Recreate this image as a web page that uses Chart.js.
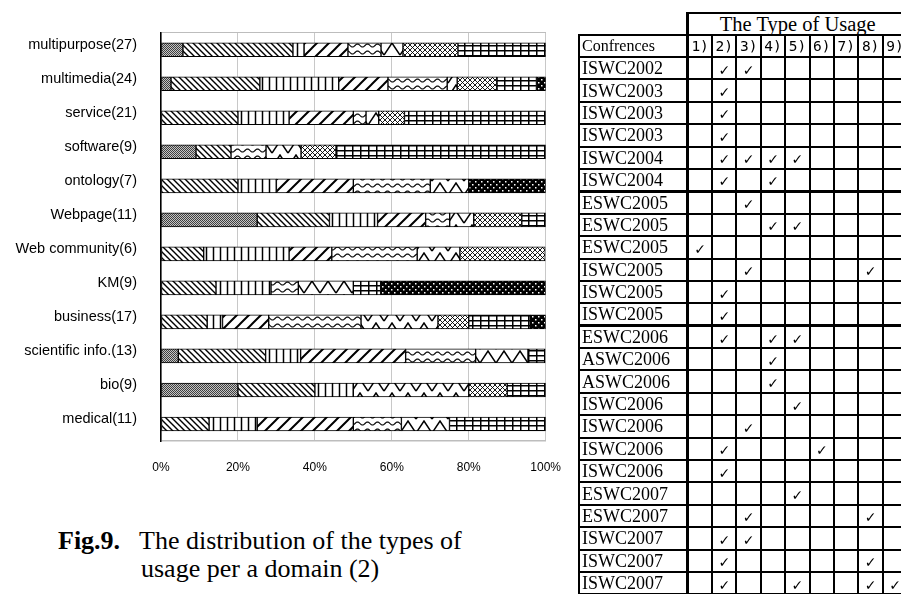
<!DOCTYPE html>
<html>
<head>
<meta charset="utf-8">
<script src="https://cdn.jsdelivr.net/npm/chart.js@4.4.0/dist/chart.umd.min.js"></script>
<style>
html,body{margin:0;padding:0;background:#fff;width:901px;height:594px;overflow:hidden;position:relative}
#wrap{position:absolute;left:0;top:0;width:580px;height:481px}
#tbl{position:absolute;left:578px;top:12px;border-collapse:collapse;table-layout:fixed;width:329px}
#tbl td{border:2px solid #000;padding:0;font-family:"Liberation Serif","Times New Roman",serif;color:#000;white-space:nowrap;overflow:hidden;vertical-align:middle;background:#fff;line-height:14px}
#tbl tr{height:22.4px}
#tbl tr.h1{height:21.6px}
#tbl td.blank{border-top:none;border-left:none;border-bottom:none;background:transparent}
#tbl td.title{font-size:20.5px;text-align:center;border-left:3px solid #000}
#tbl td.name{font-size:18px;padding-left:2px;border-right:3px solid #000}
#tbl td.hname{font-size:16px;padding-left:2px;border-right:3px solid #000}
#tbl td.num{font-family:"DejaVu Sans Mono",monospace;font-size:14.5px;text-align:center}
#tbl td.chk{font-family:"DejaVu Sans",sans-serif;font-size:14px;text-align:center;padding-top:3px;font-weight:bold}
#tbl tr.sep td{border-top:3px solid #000}
.cap{position:absolute;font-family:"Liberation Serif","Times New Roman",serif;font-size:26px;line-height:28px;color:#000;white-space:nowrap}
.cap b{font-weight:bold}
</style>
</head>
<body>
<div id="wrap"><canvas id="c" width="580" height="481"></canvas></div>
<table id="tbl">
<colgroup><col style="width:108.7px"><col style="width:24.4px"><col style="width:24.4px"><col style="width:24.4px"><col style="width:24.4px"><col style="width:24.4px"><col style="width:24.4px"><col style="width:24.4px"><col style="width:24.4px"><col style="width:24.4px"></colgroup>
<tbody id="tb"></tbody>
</table>
<div id="caption">
<div class="cap" style="left:58px;top:527px"><b>Fig.9.</b></div>
<div class="cap" style="left:139px;top:527px">The distribution of the types of</div>
<div class="cap" style="left:141px;top:555px">usage per a domain (2)</div>
</div>
<script>
// ---- chart data (percent of usages per domain) ----
const categories = ['multipurpose(27)','multimedia(24)','service(21)','software(9)','ontology(7)','Webpage(11)','Web community(6)','KM(9)','business(17)','scientific info.(13)','bio(9)','medical(11)'];
const type1 = [5.7, 2.6, 0, 9.1, 0, 25, 0, 0, 0, 4.5, 20, 0];
const type2 = [28.6, 23.1, 20, 9.1, 20, 18.8, 11.1, 14.3, 12, 22.7, 20, 12.5];
const type3 = [2.9, 20.5, 13.3, 0, 10, 12.5, 22.2, 14.3, 4, 9.1, 10, 12.5];
const type4 = [11.4, 12.8, 16.7, 0, 20, 12.5, 11.1, 0, 12, 27.3, 0, 25];
const type5 = [8.6, 15.4, 3.3, 9.1, 20, 6.25, 22.2, 7.1, 24, 18.2, 0, 12.5];
const type6 = [5.7, 2.6, 3.3, 9.1, 10, 6.25, 11.1, 14.3, 20, 13.6, 30, 12.5];
const type7 = [14.3, 10.3, 6.7, 9.1, 0, 12.5, 22.2, 0, 8, 0, 10, 0];
const type8 = [22.9, 10.3, 36.7, 54.5, 0, 6.25, 0, 7.1, 16, 4.5, 10, 25];
const type9 = [0, 2.6, 0, 0, 20, 0, 0, 42.9, 4, 0, 0, 0];
const typeNames = ['1)','2)','3)','4)','5)','6)','7)','8)','9)'];
const xTickStep = 20;

// ---- table data ----
const tableTitle = 'The Type of Usage';
const tableHead = 'Confrences';
const conferences = ['ISWC2002','ISWC2003','ISWC2003','ISWC2003','ISWC2004','ISWC2004','ESWC2005','ESWC2005','ESWC2005','ISWC2005','ISWC2005','ISWC2005','ESWC2006','ASWC2006','ASWC2006','ISWC2006','ISWC2006','ISWC2006','ISWC2006','ESWC2007','ESWC2007','ISWC2007','ISWC2007','ISWC2007'];
const usageChecks = [[2,3],[2],[2],[2],[2,3,4,5],[2,4],[3],[4,5],[1],[3,8],[2],[2],[2,4,5],[4],[4],[5],[3],[2,6],[2],[5],[3,8],[2,3],[2,8],[2,5,8,9]];
const separatorRows = [6,12];

// ---- build table ----
const tb = document.getElementById('tb');
let tr = document.createElement('tr'); tr.className='h1';
let td = document.createElement('td'); td.className='blank'; tr.appendChild(td);
td = document.createElement('td'); td.className='title'; td.colSpan=9; td.textContent=tableTitle; tr.appendChild(td);
tb.appendChild(tr);
tr = document.createElement('tr');
td = document.createElement('td'); td.className='hname'; td.textContent=tableHead; tr.appendChild(td);
typeNames.forEach(n=>{const d=document.createElement('td'); d.className='num'; d.textContent=n; tr.appendChild(d);});
tb.appendChild(tr);
conferences.forEach((name,i)=>{
  const r=document.createElement('tr');
  if(separatorRows.includes(i)) r.className='sep';
  const a=document.createElement('td'); a.className='name'; a.textContent=name; r.appendChild(a);
  for(let k=1;k<=9;k++){const d=document.createElement('td'); d.className='chk'; d.textContent=usageChecks[i].includes(k)?'\u2713':''; r.appendChild(d);}
  tb.appendChild(r);
});

// ---- patterns ----
const canvas=document.getElementById('c');
const ctx=canvas.getContext('2d');
function tile(w,h,draw){
  const c=document.createElement('canvas'); c.width=w; c.height=h;
  const g=c.getContext('2d'); g.fillStyle='#fff'; g.fillRect(0,0,w,h);
  g.strokeStyle='#000'; g.fillStyle='#000'; draw(g,w,h);
  return ctx.createPattern(c,'repeat');
}
const patterns=[
  tile(2,2,g=>{g.fillStyle='#c4c4c4';g.fillRect(0,0,2,2);g.fillStyle='#404040';g.fillRect(0,0,1,1);g.fillRect(1,1,1,1);}),
  tile(6,6,g=>{g.lineWidth=1.4;g.beginPath();g.moveTo(-1,-1);g.lineTo(7,7);g.moveTo(-1,5);g.lineTo(1,7);g.moveTo(5,-1);g.lineTo(7,1);g.stroke();}),
  tile(7,4,g=>{g.lineWidth=1.5;g.beginPath();g.moveTo(3.5,0);g.lineTo(3.5,4);g.stroke();}),
  tile(12,12,g=>{g.lineWidth=2;g.beginPath();g.moveTo(-1,13);g.lineTo(13,-1);g.moveTo(-1,1);g.lineTo(1,-1);g.moveTo(11,13);g.lineTo(13,11);g.stroke();}),
  tile(10,7,g=>{g.lineWidth=1.2;g.beginPath();for(let x=0;x<=10;x+=0.5){const y=3.5+1.5*Math.sin(2*Math.PI*x/10);if(x===0)g.moveTo(x,y);else g.lineTo(x,y);}g.stroke();}),
  tile(16,14,g=>{g.lineWidth=1.5;g.beginPath();g.moveTo(0,13);g.lineTo(8,1);g.lineTo(16,13);g.stroke();}),
  tile(5,5,g=>{g.lineWidth=0.9;g.beginPath();g.moveTo(0,0);g.lineTo(5,5);g.moveTo(5,0);g.lineTo(0,5);g.stroke();}),
  tile(8,5,g=>{g.fillRect(0,0,8,1.5);g.fillRect(0,0,1.5,5);}),
  tile(6,6,g=>{g.fillRect(0,0,6,6);g.fillStyle='#fff';g.fillRect(1,1,1.5,1.5);g.fillRect(4,4,1.5,1.5);})
];
const seriesValues=[type1,type2,type3,type4,type5,type6,type7,type8,type9];

new Chart(ctx,{
  type:'bar',
  data:{
    labels:categories,
    datasets:seriesValues.map((vals,i)=>({
      label:typeNames[i], data:vals, backgroundColor:patterns[i],
      borderColor:'#000', borderWidth:1, borderSkipped:false, barThickness:14
    }))
  },
  options:{
    indexAxis:'y', responsive:false, animation:false, devicePixelRatio:1,
    layout:{padding:{top:7,right:29,bottom:0,left:0}},
    plugins:{legend:{display:false},tooltip:{enabled:false}},
    scales:{
      x:{stacked:true,min:0,max:100,position:'bottom',
        ticks:{stepSize:xTickStep,callback:v=>v+'%',font:{family:'Liberation Sans',size:12},color:'#000',padding:19,maxRotation:0},
        grid:{color:'#c8c8c8',lineWidth:1,drawTicks:false},
        border:{display:true,color:'#bdbdbd',width:1.5},
        afterFit(s){s.height=40;}},
      xTop:{type:'linear',position:'top',min:0,max:100,
        ticks:{display:false},grid:{display:false,drawTicks:false},
        border:{display:true,color:'#bdbdbd',width:1},
        afterFit(s){s.height=0;}},
      y:{stacked:true,
        ticks:{font:{family:'Liberation Sans',size:14.5},color:'#000',padding:24,labelOffset:-5},
        grid:{display:false,drawTicks:false},
        border:{display:true,color:'#000',width:1.5},
        afterFit(s){s.width=161;}}
    }
  }
});
</script>
</body>
</html>
